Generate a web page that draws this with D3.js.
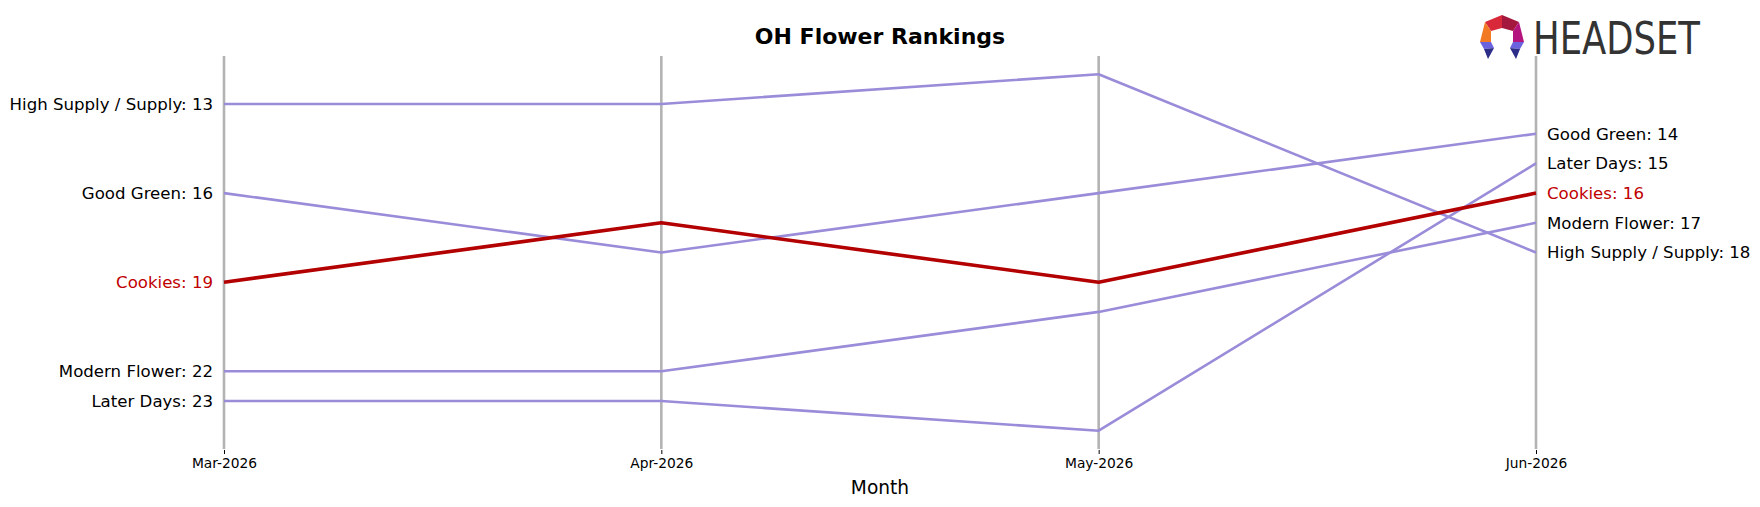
<!DOCTYPE html>
<html>
<head>
<meta charset="utf-8">
<script src="https://cdn.jsdelivr.net/npm/d3@7"></script>
<style>
  html, body { margin: 0; padding: 0; background: #fff; }
  svg { display: block; font-family: "DejaVu Sans", sans-serif; }
</style>
</head>
<body>
<svg id="chart" width="1760" height="507"></svg>
<script>
// OH Flower Rankings — bump chart

const MONTHS = ['Mar-2026', 'Apr-2026', 'May-2026', 'Jun-2026'];
const BRANDS = ['High Supply / Supply', 'Good Green', 'Modern Flower', 'Later Days', 'Cookies'];
const RANKS = [
    [13, 13, 12, 18],
    [16, 18, 16, 14],
    [22, 22, 20, 17],
    [23, 23, 24, 15],
    [19, 17, 19, 16]
];
const HIGHLIGHT = 'Cookies';

const svg = d3.select('#chart');

const x = d3.scalePoint()
    .domain(MONTHS)
    .range([224, 1536]);

const y = d3.scaleLinear()
    .domain([13, 23])
    .range([104, 401]);

const GRID_TOP = 56;
const GRID_BOTTOM = 449;

// vertical month lines
svg.append('g')
    .selectAll('line')
    .data(MONTHS)
    .join('line')
    .attr('x1', d => x(d))
    .attr('x2', d => x(d))
    .attr('y1', GRID_TOP)
    .attr('y2', GRID_BOTTOM)
    .attr('stroke', '#b3b3b3')
    .attr('stroke-width', 2.6);

// x axis
svg.append('g')
    .attr('transform', `translate(0, ${GRID_BOTTOM + 1})`)
    .call(d3.axisBottom(x).tickSize(4).tickPadding(4))
    .call(g => g.select('.domain').remove())
    .call(g => g.selectAll('line').attr('stroke', '#000').attr('stroke-width', 1))
    .call(g => g.selectAll('text')
        .attr('font-size', '13.8px')
        .attr('font-family', '"DejaVu Sans", sans-serif')
        .attr('fill', '#000'));

svg.append('text')
    .attr('x', 880)
    .attr('y', 494)
    .attr('text-anchor', 'middle')
    .attr('font-size', '18.6px')
    .text('Month');

// title
svg.append('text')
    .attr('x', 880)
    .attr('y', 44)
    .attr('text-anchor', 'middle')
    .attr('font-size', '22px')
    .attr('font-weight', 'bold')
    .text('OH Flower Rankings');

// rank lines
const series = BRANDS.map((name, i) => ({
    name,
    ranks: RANKS[i],
    hi: name === HIGHLIGHT
}));
series.sort((a, b) => a.hi - b.hi);

const line = d3.line()
    .x((d, i) => x(MONTHS[i]))
    .y(d => y(d));

svg.append('g')
    .selectAll('path')
    .data(series)
    .join('path')
    .attr('d', d => line(d.ranks))
    .attr('fill', 'none')
    .attr('stroke', d => d.hi ? '#b30000' : '#9a8cd9')
    .attr('stroke-width', d => d.hi ? 3.6 : 2.6)
    .attr('stroke-linejoin', 'round');

// left labels
svg.append('g')
    .selectAll('text')
    .data(series)
    .join('text')
    .attr('x', 213)
    .attr('y', d => y(d.ranks[0]))
    .attr('dy', '0.35em')
    .attr('text-anchor', 'end')
    .attr('font-size', '16.6px')
    .attr('fill', d => d.hi ? '#c00000' : '#000')
    .text(d => `${d.name}: ${d.ranks[0]}`);

// right labels
svg.append('g')
    .selectAll('text')
    .data(series)
    .join('text')
    .attr('x', 1547)
    .attr('y', d => y(d.ranks[MONTHS.length - 1]))
    .attr('dy', '0.35em')
    .attr('text-anchor', 'start')
    .attr('font-size', '16.6px')
    .attr('fill', d => d.hi ? '#c00000' : '#000')
    .text(d => `${d.name}: ${d.ranks[MONTHS.length - 1]}`);

// HEADSET logo
const logo = svg.append('g');
const pieces = [
    { pts: [[1502, 15], [1485, 22], [1491, 31], [1502, 28]], fill: '#d8283a' },
    { pts: [[1502, 15], [1519, 22], [1513, 31], [1502, 28]], fill: '#a3183c' },
    { pts: [[1485, 22], [1480, 42], [1491, 42], [1491, 31]], fill: '#f27a24' },
    { pts: [[1519, 22], [1524, 42], [1513, 42], [1513, 31]], fill: '#b4147e' },
    { pts: [[1480, 42], [1491, 42], [1494, 48], [1484, 49]], fill: '#6b63dd' },
    { pts: [[1524, 42], [1513, 42], [1510, 48], [1520, 49]], fill: '#6b63dd' },
    { pts: [[1484, 49], [1494, 48], [1488, 59]], fill: '#2b2d88' },
    { pts: [[1520, 49], [1510, 48], [1516, 59]], fill: '#2b2d88' }
];
logo.selectAll('polygon')
    .data(pieces)
    .join('polygon')
    .attr('points', d => d.pts.map(p => p.join(',')).join(' '))
    .attr('fill', d => d.fill);

logo.append('text')
    .attr('x', 1533)
    .attr('y', 54)
    .attr('font-size', '45px')
    .attr('font-family', '"Liberation Sans Narrow", "DejaVu Sans Condensed", sans-serif')
    .attr('fill', '#333')
    .attr('textLength', 167)
    .attr('lengthAdjust', 'spacingAndGlyphs')
    .text('HEADSET');
</script>
</body>
</html>
